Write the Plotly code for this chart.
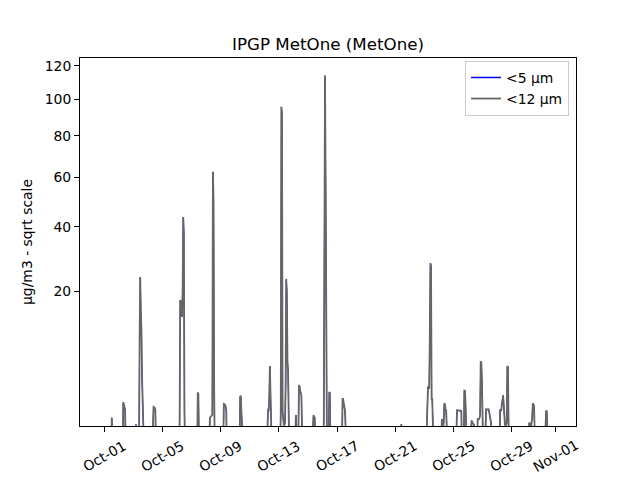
import numpy as np
import pandas as pd
import plotly.graph_objects as go

# ---- data (µg/m3, hourly events; zero elsewhere) ----
event_start = [
    "2023-10-01 12:00", "2023-10-02 07:00", "2023-10-03 04:00", "2023-10-03 10:00",
    "2023-10-04 08:00", "2023-10-06 04:00", "2023-10-07 10:00", "2023-10-08 06:00",
    "2023-10-09 05:00", "2023-10-10 08:00", "2023-10-12 05:00", "2023-10-13 03:00",
    "2023-10-14 03:00", "2023-10-15 08:00", "2023-10-16 02:00", "2023-10-16 11:00",
    "2023-10-17 09:00", "2023-10-21 10:00", "2023-10-22 07:00", "2023-10-23 04:00",
    "2023-10-24 04:00", "2023-10-25 05:00", "2023-10-25 18:00", "2023-10-26 05:00",
    "2023-10-26 16:00", "2023-10-27 05:00", "2023-10-28 05:00", "2023-10-29 14:00",
    "2023-10-30 05:00", "2023-10-31 05:00",
]

pm12_events = [
    [0.7],
    [1.64, 1.3, 1.3, 1.17],
    [0.41],
    [10.0, 23.8, 15.0, 11.3, 4.0, 1.5, 1.34],
    [1.0, 1.32, 1.3, 1.25, 1.1],
    [0.5, 17.8, 17.5, 16.0, 14.0, 20.0, 43.6, 38.0, 1.0],
    [2.43, 2.3],
    [0.7, 0.75, 0.8, 0.8, 0.85, 62.6, 50.0, 3.0],
    [1.52, 1.5, 1.45, 1.35, 1.1],
    [2.14, 2.1, 1.0, 0.5, 0.45],
    [1.12, 1.12, 1.1, 2.0, 5.4, 1.95, 1.0],
    [1.0, 95.6, 92.0, 1.0, 0.5, 0.4, 0.4, 0.5, 3.0, 23.2, 20.0, 6.0, 4.8, 1.0],
    [0.84, 0.84, 0.1, 0.1, 0.1, 0.1, 3.14, 3.0, 2.6, 2.22, 2.22, 0.3],
    [0.84, 0.84, 0.7, 0.7],
    [0.5, 110.0, 114.0, 60.0, 2.0, 0.5],
    [2.43, 2.43],
    [1.95, 1.9, 1.5, 1.17, 1.1, 0.3],
    [0.42],
    [0.35],
    [0.5, 3.0, 3.0, 2.9, 2.8, 10.0, 27.9, 27.0, 1.9, 1.9, 0.5],
    [0.63, 0.63, 0.1, 0.2, 0.5, 1.57, 1.5, 1.1, 1.1, 0.3],
    [1.1, 1.11, 1.1, 1.12, 1.1, 1.08, 1.1, 1.05, 1.1],
    [2.61, 2.6, 1.5, 0.3],
    [0.57, 0.57, 0.5, 0.45, 0.42, 0.4],
    [0.63, 0.63, 0.63, 0.7, 0.8, 5.95, 5.9, 3.7, 0.5],
    [1.17, 1.17, 1.15, 1.17, 1.17, 1.17, 1.0, 0.8, 0.6, 0.5],
    [1.12, 1.12, 1.1, 1.5, 2.19, 2.19, 1.5, 0.4, 0.4, 0.4, 0.4, 0.5, 5.4, 5.3, 0.5],
    [0.35],
    [0.46, 0.46, 0.3, 0.3, 0.5, 0.7, 1.57, 1.5, 1.4, 0.3],
    [0.35, 0.3, 0.2, 0.3, 1.06, 1.06, 0.3],
]

# <5 µm: almost entirely hidden below the <12 µm line in the reference
pm5_events = [
    [0.7],
    [1.64, 1.3, 1.3, 1.17],
    [0.41],
    [10.0, 23.8, 15.0, 11.3, 4.0, 1.5, 1.34],
    [1.0, 1.32, 1.3, 1.25, 1.1],
    [0.5, 17.8, 17.5, 16.0, 14.0, 20.0, 43.6, 38.0, 1.0],
    [2.43, 2.3],
    [0.7, 0.75, 0.8, 0.8, 0.85, 62.5, 50.0, 3.0],
    [1.52, 1.5, 1.45, 1.35, 1.1],
    [2.14, 2.1, 1.0, 0.5, 0.45],
    [1.12, 1.12, 1.1, 2.0, 5.4, 1.95, 1.0],
    [1.0, 95.5, 92.0, 1.0, 0.5, 0.4, 0.4, 0.5, 3.0, 23.2, 20.0, 6.0, 4.8, 1.0],
    [0.84, 0.84, 0.1, 0.1, 0.1, 0.1, 3.14, 3.0, 2.6, 2.22, 2.22, 0.3],
    [0.84, 0.84, 0.7, 0.7],
    [0.5, 110.0, 113.8, 60.0, 2.0, 0.5],
    [2.43, 2.43],
    [1.95, 1.9, 1.5, 1.17, 1.1, 0.3],
    [0.42],
    [0.35],
    [0.5, 3.0, 3.0, 2.9, 2.8, 10.0, 27.9, 27.0, 1.9, 1.9, 0.5],
    [0.63, 0.63, 0.1, 0.2, 0.5, 1.57, 1.5, 1.1, 1.1, 0.3],
    [1.1, 1.11, 1.1, 1.12, 1.1, 1.08, 1.1, 1.05, 1.1],
    [2.61, 2.6, 1.5, 0.3],
    [0.57, 0.57, 0.5, 0.45, 0.42, 0.4],
    [0.63, 0.63, 0.63, 0.7, 0.8, 5.95, 5.9, 3.7, 0.5],
    [1.17, 1.17, 1.15, 1.17, 1.17, 1.17, 1.0, 0.8, 0.6, 0.5],
    [1.12, 1.12, 1.1, 1.5, 2.19, 2.19, 1.5, 0.4, 0.4, 0.4, 0.4, 0.5, 5.4, 5.3, 0.5],
    [0.35],
    [0.46, 0.46, 0.3, 0.3, 0.5, 0.7, 1.57, 1.5, 1.4, 0.3],
    [0.35, 0.3, 0.2, 0.3, 1.06, 1.06, 0.3],
]

y_tick_values = [20, 40, 60, 80, 100, 120]
x_tick_dates = ["2023-10-01", "2023-10-05", "2023-10-09", "2023-10-13", "2023-10-17",
                "2023-10-21", "2023-10-25", "2023-10-29", "2023-11-01"]
x_tick_labels = ["Oct-01", "Oct-05", "Oct-09", "Oct-13", "Oct-17",
                 "Oct-21", "Oct-25", "Oct-29", "Nov-01"]


def expand(starts, groups):
    xs, ys = [], []
    for s, vals in zip(starts, groups):
        t0 = pd.Timestamp(s)
        xs.append(t0 - pd.Timedelta(hours=1))
        ys.append(0.0)
        for i, v in enumerate(vals):
            xs.append(t0 + pd.Timedelta(hours=i))
            ys.append(v)
        xs.append(t0 + pd.Timedelta(hours=len(vals)))
        ys.append(0.0)
    return xs, np.sqrt(np.array(ys))   # sqrt scale


x5, y5 = expand(event_start, pm5_events)
x12, y12 = expand(event_start, pm12_events)

font = dict(family="DejaVu Sans", color="black")

fig = go.Figure()
fig.add_trace(go.Scatter(x=x5, y=y5, mode="lines", name="<5 µm", showlegend=False,
                         line=dict(color="#0000ff", width=1.0)))
# legend entry for <5 µm (drawn at the normal line width)
fig.add_trace(go.Scatter(x=[None], y=[None], mode="lines", name="<5 µm",
                         line=dict(color="#0000ff", width=1.5)))
fig.add_trace(go.Scatter(x=x12, y=y12, mode="lines", name="<12 µm",
                         line=dict(color="#666666", width=1.8)))

# x tick labels, centred under the ticks and rotated 30°
for d, lab in zip(x_tick_dates, x_tick_labels):
    fig.add_annotation(x=d, y=0, xref="x", yref="paper", text=lab, showarrow=False,
                       textangle=-30, xanchor="center", yanchor="middle", yshift=-30,
                       font=dict(size=13.9, **font))

fig.update_layout(
    width=640, height=480,
    margin=dict(l=80, r=64, t=58, b=54, autoexpand=False),
    paper_bgcolor="white", plot_bgcolor="white",
    font=dict(size=13.9, **font),
    title=dict(text="IPGP MetOne (MetOne)", x=0.5, xref="paper", xanchor="center",
               y=1 - 44 / 480, yref="container", yanchor="middle",
               font=dict(size=16.7, **font)),
    showlegend=True,
    legend=dict(x=0.986, y=0.992, xanchor="right", yanchor="top",
                bgcolor="rgba(255,255,255,0.8)", bordercolor="#cccccc", borderwidth=1,
                font=dict(size=13.9, **font), tracegroupgap=0),
)

fig.update_xaxes(
    type="date",
    range=["2023-09-29 07:34", "2023-11-02 10:19"],
    tickvals=x_tick_dates, showticklabels=False,
    ticks="outside", ticklen=5, tickwidth=1, tickcolor="black",
    showline=True, linecolor="black", linewidth=1, mirror=True,
    showgrid=False, zeroline=False,
    automargin=False,
)
fig.update_yaxes(
    range=[0.60, 11.18],
    tickvals=list(np.sqrt(y_tick_values)), ticktext=[str(v) for v in y_tick_values],
    ticks="outside", ticklen=5, tickwidth=1, tickcolor="black",
    showline=True, linecolor="black", linewidth=1, mirror=True,
    showgrid=False, zeroline=False, tickfont=dict(size=13.9, **font),
    title=dict(text="µg/m3 - sqrt scale", standoff=8, font=dict(size=13.9, **font)),
    automargin=False,
)

fig.write_html("out.html", config={"displayModeBar": False},
               post_script="document.body.style.margin='0px';document.body.style.padding='0px';")
